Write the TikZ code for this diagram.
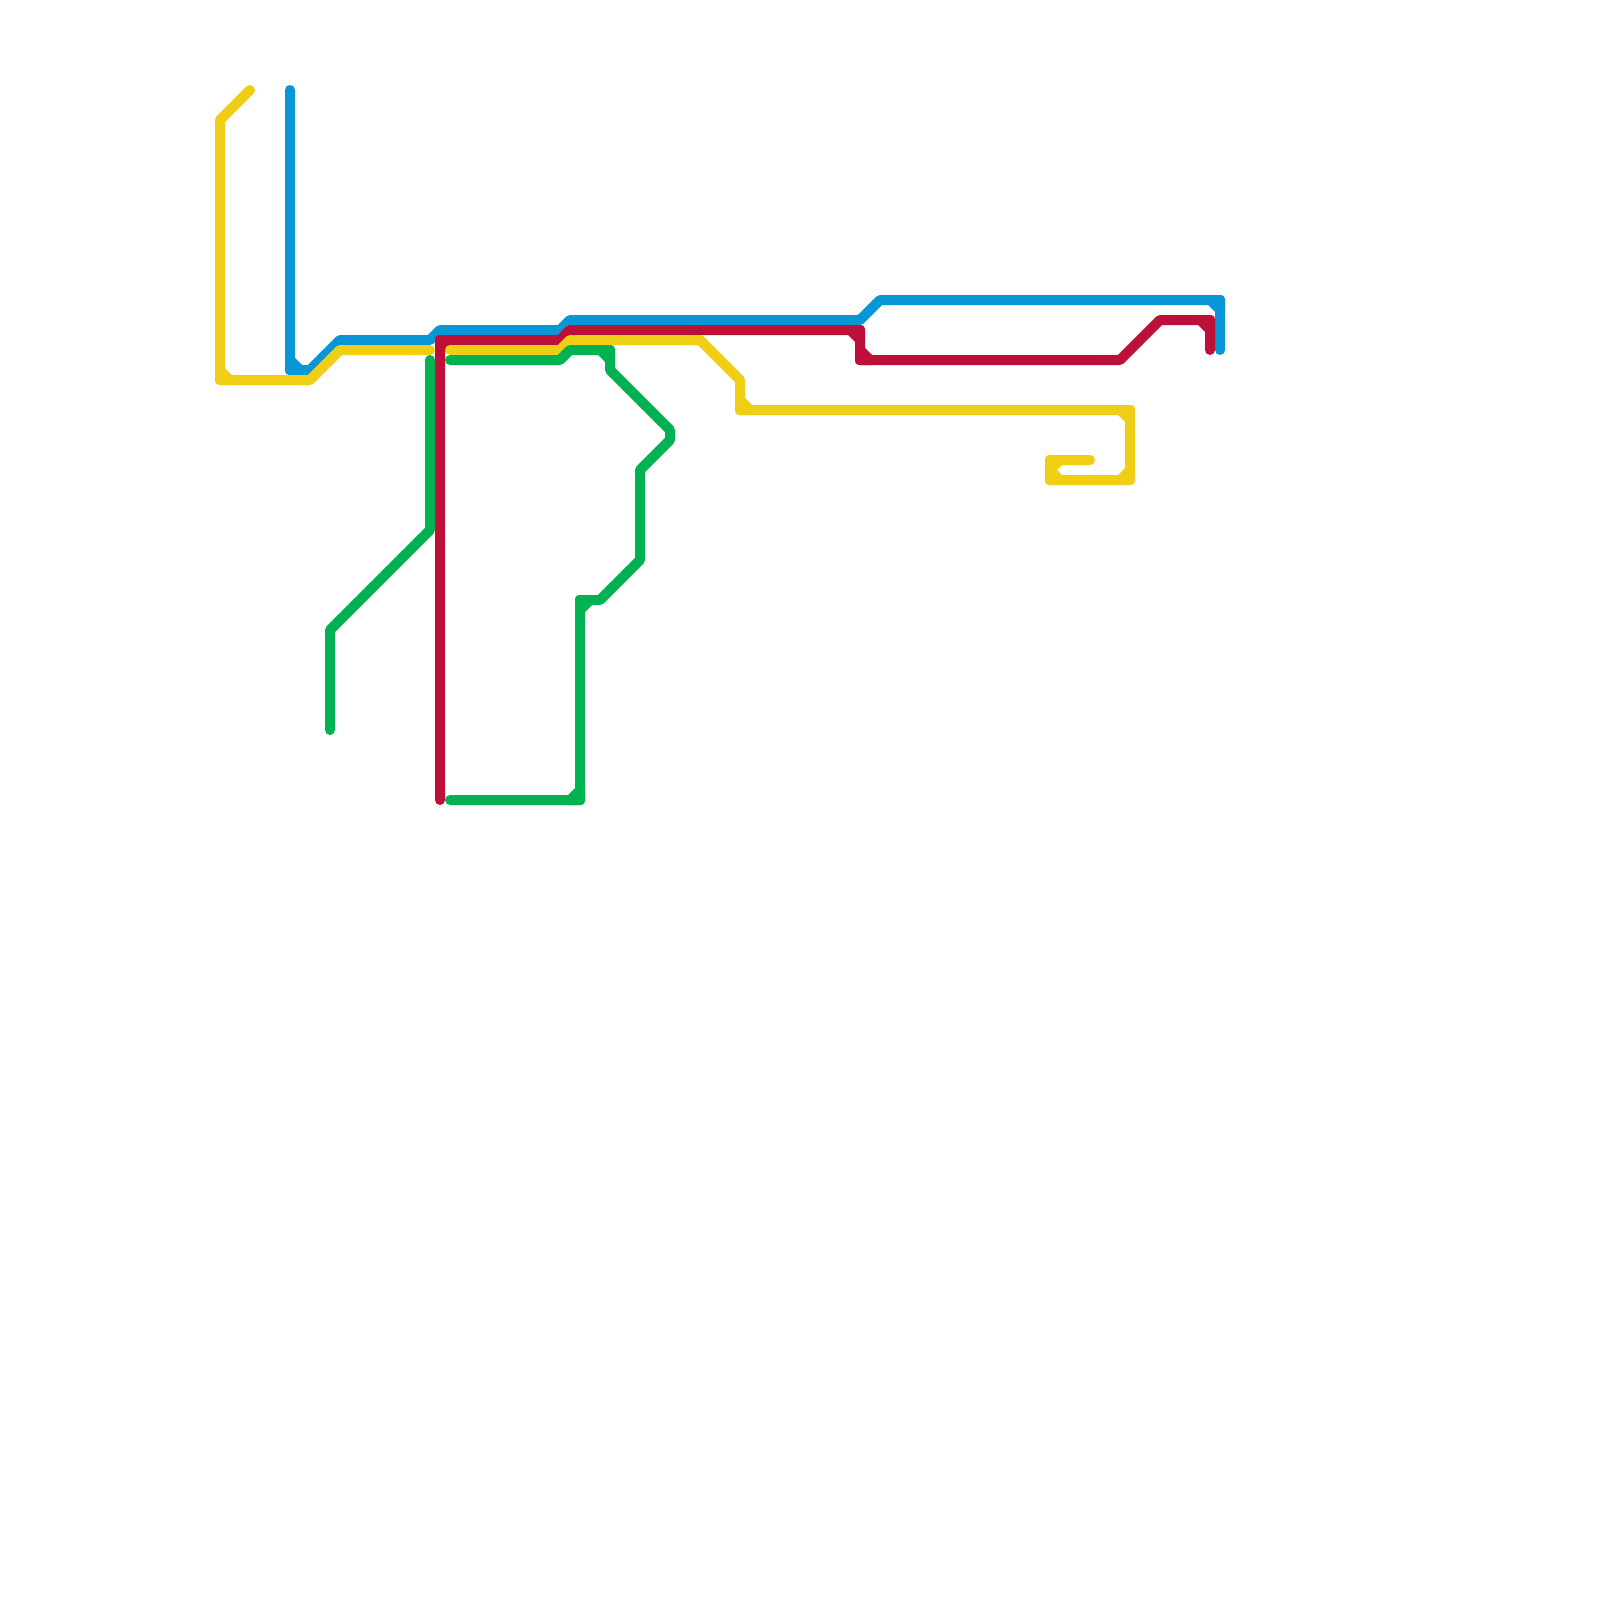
\documentclass[tikz,border=0pt]{standalone}
\definecolor{lineyellow}{HTML}{F0CE15}
\definecolor{lineblue}{HTML}{0896D7}
\definecolor{linered}{HTML}{BD1038}
\definecolor{linegreen}{HTML}{00B251}
\tikzset{
  metro/.style={line width=5pt,line cap=round,line join=round},
}
% right-angle corner: colour, corner x, y, unit arm a (x,y), unit arm b (x,y)
\newcommand{\cnr}[7]{%
  \fill[#1] ({#2+12*(#4)+5*(#6)},{#3+12*(#5)+5*(#7)})
    -- ({#2+5*(#4)+12*(#6)},{#3+5*(#5)+12*(#7)})
    -- ({#2-5*(#4)+12*(#6)},{#3-5*(#5)+12*(#7)})
    -- ({#2-5*(#4)-1*(#6)},{#3-5*(#5)-1*(#7)})
    .. controls ({#2-5*(#4)-3.2*(#6)},{#3-5*(#5)-3.2*(#7)})
    and ({#2-3.2*(#4)-5*(#6)},{#3-3.2*(#5)-5*(#7)}) ..
    ({#2-1*(#4)-5*(#6)},{#3-1*(#5)-5*(#7)})
    -- ({#2+12*(#4)-5*(#6)},{#3+12*(#5)-5*(#7)})
    -- cycle;%
}
\begin{document}
\begin{tikzpicture}[x=0.5pt,y=-0.5pt]
\useasboundingbox (0,0) rectangle (1600,1600);
\fill[white] (0,0) rectangle (1600,1600);
% blue
\draw[metro,lineblue] (290,90) -- (290,370) -- (310,370) -- (340,340) -- (430,340) -- (440,330) -- (560,330) -- (570,320) -- (860,320) -- (880,300) -- (1220,300) -- (1220,350);
\cnr{lineblue}{290}{370}{0}{-1}{1}{0}
\cnr{lineblue}{1220}{300}{-1}{0}{0}{1}
% red
\draw[metro,linered] (440,800) -- (440,340) -- (560,340) -- (570,330) -- (860,330) -- (860,360) -- (1120,360) -- (1160,320) -- (1210,320) -- (1210,350);
\cnr{linered}{440}{340}{0}{1}{1}{0}
\cnr{linered}{860}{330}{-1}{0}{0}{1}
\cnr{linered}{860}{360}{0}{-1}{1}{0}
\cnr{linered}{1210}{320}{-1}{0}{0}{1}
% yellow
\draw[metro,lineyellow] (250,90) -- (220,120) -- (220,380) -- (310,380) -- (340,350) -- (430,350);
\cnr{lineyellow}{220}{380}{0}{-1}{1}{0}
\draw[metro,lineyellow] (450,350) -- (560,350) -- (570,340) -- (700,340) -- (740,380) -- (740,410) -- (1130,410) -- (1130,480) -- (1050,480) -- (1050,460) -- (1090,460);
\cnr{lineyellow}{740}{410}{0}{-1}{1}{0}
\cnr{lineyellow}{1130}{410}{-1}{0}{0}{1}
\cnr{lineyellow}{1130}{480}{-1}{0}{0}{-1}
\cnr{lineyellow}{1050}{480}{0}{-1}{1}{0}
\cnr{lineyellow}{1050}{460}{0}{1}{1}{0}
% green
\draw[metro,linegreen] (430,360) -- (430,530) -- (330,630) -- (330,730);
\draw[metro,linegreen] (450,360) -- (560,360) -- (570,350) -- (610,350) -- (610,370) -- (670,430) -- (670,440) -- (640,470) -- (640,560) -- (600,600) -- (580,600) -- (580,800) -- (450,800);
\cnr{linegreen}{610}{350}{-1}{0}{0}{1}
\cnr{linegreen}{580}{600}{1}{0}{0}{1}
\cnr{linegreen}{580}{800}{-1}{0}{0}{-1}
\end{tikzpicture}
\end{document}
